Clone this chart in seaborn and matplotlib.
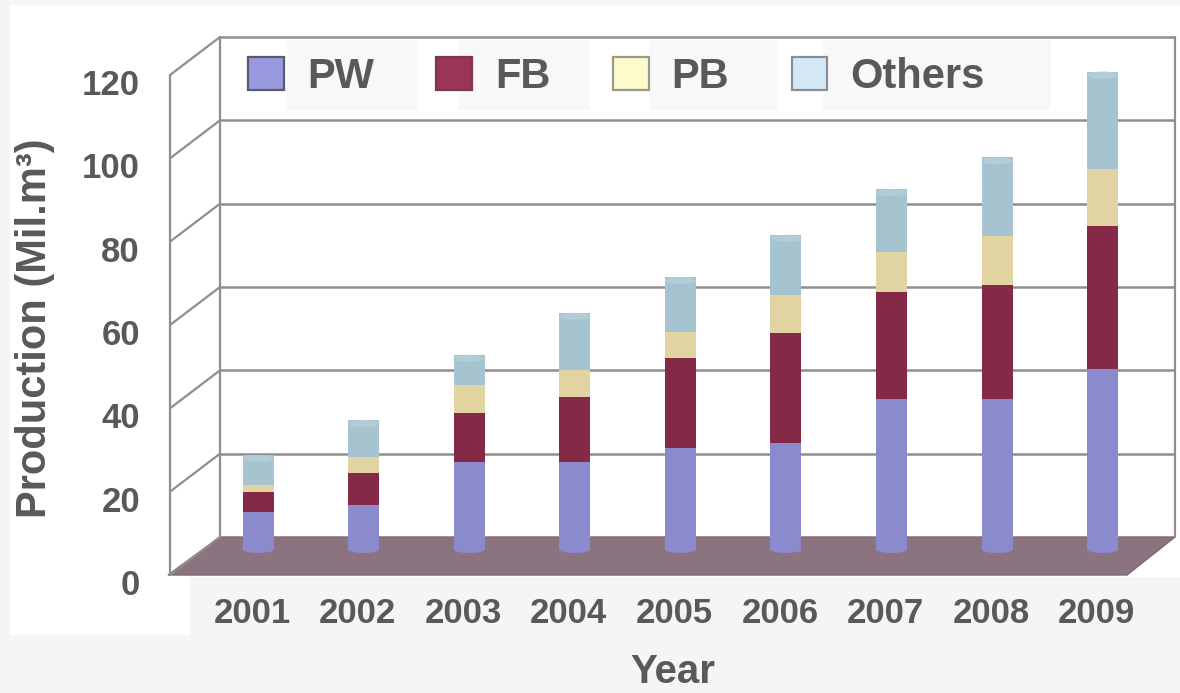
import numpy as np
import pandas as pd
import matplotlib
matplotlib.use("Agg")
import matplotlib.pyplot as plt
import seaborn as sns
from matplotlib.patches import Rectangle, Polygon, Patch, Ellipse
from matplotlib.transforms import ScaledTranslation

# ---------------- data ----------------
years = ["2001", "2002", "2003", "2004", "2005", "2006", "2007", "2008", "2009"]
pw = [9.0, 10.7, 21.0, 21.0, 24.4, 25.6, 36.1, 36.1, 43.3]
fb = [4.8, 7.7, 11.8, 15.6, 21.6, 26.4, 25.8, 27.4, 34.3]
pb = [1.7, 3.8, 6.7, 6.5, 6.2, 9.1, 9.6, 11.7, 13.7]
others = [7.2, 8.9, 7.2, 13.7, 13.2, 14.4, 15.0, 18.9, 23.4]
series_names = ["PW", "FB", "PB", "Others"]
y_ticks = [0, 20, 40, 60, 80, 100, 120]

bar_colors = {"PW": "#8a8acc", "FB": "#842a46", "PB": "#e2d4a2", "Others": "#a6c4d0"}
cap_color = "#b2cdd8"
legend_colors = {"PW": "#9a9ae0", "FB": "#9b3558", "PB": "#fdfbcc", "Others": "#d4e8f6"}
legend_edges = {"PW": "#5a5a6a", "FB": "#7a3a4a", "PB": "#9a9a88", "Others": "#8a8e94"}
text_color = "#595959"
line_color = "#8e8e8e"

sns.set_style("white")
plt.rcParams["font.family"] = ["Liberation Sans", "DejaVu Sans"]
plt.rcParams["font.weight"] = "bold"

W, H = 1180, 693
fig = plt.figure(figsize=(W / 100, H / 100), dpi=100)
fig.patch.set_facecolor("#f5f5f5")

def fx(px):
    return px / W

def fy(py):
    return 1 - py / H

# white backdrop areas
fig.patches.append(Rectangle((fx(10), fy(577)), (W - 10) / W, (577 - 5) / H,
                             transform=fig.transFigure, facecolor="white",
                             edgecolor="none", zorder=-2))
fig.patches.append(Rectangle((fx(10), fy(635)), 180 / W, (635 - 577) / H,
                             transform=fig.transFigure, facecolor="white",
                             edgecolor="none", zorder=-2))
# faint boxes behind legend texts
for x0, x1 in [(287, 417), (459, 589), (649, 777), (823, 1051)]:
    fig.patches.append(Rectangle((fx(x0), fy(110)), (x1 - x0) / W, 70 / H,
                                 transform=fig.transFigure, facecolor="#f8f8f8",
                                 edgecolor="none", zorder=-1))

rect = [150 / W, (H - 587.5) / H, 1030 / W, (587.5 - 25) / H]
step = 105.6
x_first = 258.0

def xd(px):
    return (px - x_first) / step

xlim = (xd(150), xd(1180))
px_per_unit = 4.1667
dv = 38 / px_per_unit  # depth offset in value units

# ---------------- frame axes (front scale) ----------------
ax = fig.add_axes(rect)
ax.set_xlim(*xlim)
ax.set_ylim(-3, 132)
ax.patch.set_alpha(0)
for s in ax.spines.values():
    s.set_visible(False)

# floor
ax.add_patch(Polygon([(xd(168), 0), (xd(1127), 0), (xd(1175), dv), (xd(220), dv)],
                     closed=True, facecolor="#8b7480", edgecolor="#7d6872",
                     linewidth=1.0, zorder=1))
# back wall gridlines
for v in y_ticks[1:]:
    ax.plot([xd(220), xd(1175)], [v + dv, v + dv], color=line_color, lw=1.8, zorder=2,
            solid_capstyle="butt")
# left wall slanted lines
for v in y_ticks:
    ax.plot([xd(170), xd(220)], [v, v + dv], color=line_color, lw=1.6, zorder=2)
# verticals
ax.plot([xd(220)] * 2, [dv, 120 + dv], color=line_color, lw=1.6, zorder=2)
ax.plot([xd(170)] * 2, [0, 120], color=line_color, lw=1.6, zorder=2)
ax.plot([xd(1175)] * 2, [dv, 120 + dv], color=line_color, lw=1.6, zorder=2)

ax.set_yticks(y_ticks)
ax.set_yticklabels([str(v) for v in y_ticks])
ax.set_xticks(range(len(years)))
ax.set_xticklabels(years)
ax.tick_params(axis="y", length=0, pad=7.2, labelsize=25, labelcolor=text_color)
ax.tick_params(axis="x", length=0, pad=6.5, labelsize=25, labelcolor=text_color)
for lab in ax.get_yticklabels():
    lab.set_fontweight("bold")
    lab.set_transform(lab.get_transform() + ScaledTranslation(0, -7 / 100, fig.dpi_scale_trans))
for lab in ax.get_xticklabels():
    lab.set_fontweight("bold")
    lab.set_transform(lab.get_transform() + ScaledTranslation(-6 / 100, 0, fig.dpi_scale_trans))

# ---------------- bars axes ----------------
axb = fig.add_axes(rect)
axb.patch.set_alpha(0)

df = pd.DataFrame({"Year": years, "PW": pw, "FB": fb, "PB": pb, "Others": others})
cum = df[series_names].cumsum(axis=1)
base_px = 549.5
for name in reversed(series_names):
    sns.barplot(x=df["Year"], y=cum[name], order=years, color=bar_colors[name],
                saturation=1, width=31 / step, edgecolor="none", linewidth=0,
                ax=axb, zorder=3)
axb.set_xlim(*xlim)
axb.set_ylim((base_px - 587.5) / px_per_unit, (base_px - 25) / px_per_unit)
axb.axis("off")

# cylinder caps derived from the drawn bars
cap_h = 7 / px_per_unit
for bar in axb.containers[0]:
    cx = bar.get_x() + bar.get_width() / 2
    top = bar.get_y() + bar.get_height()
    axb.add_patch(Ellipse((cx, top - cap_h / 2), bar.get_width(), cap_h,
                          facecolor=cap_color, edgecolor="none", zorder=4))
for bar in axb.containers[-1]:
    cx = bar.get_x() + bar.get_width() / 2
    axb.add_patch(Ellipse((cx, bar.get_y()), bar.get_width(), cap_h,
                          facecolor=bar_colors["PW"], edgecolor="none", zorder=4))

# ---------------- legend ----------------
handles = [Patch(facecolor=legend_colors[n], edgecolor=legend_edges[n], linewidth=1.6)
           for n in series_names]
fig.legend(handles, series_names, loc="center left",
           bbox_to_anchor=(fx(248), fy(77)), ncol=4, frameon=False,
           prop={"family": "Liberation Sans", "weight": "bold", "size": 30},
           labelcolor=text_color, handlelength=0.86, handleheight=0.86,
           handletextpad=0.55, columnspacing=1.5, borderpad=0, borderaxespad=0)

# ---------------- axis titles ----------------
fig.text(fx(35), fy(328), "Production (Mil.m³)", rotation=90, ha="center", va="center",
         fontsize=30, fontweight="bold", color=text_color)
fig.text(fx(673), fy(672), "Year", ha="center", va="center",
         fontsize=29, fontweight="bold", color=text_color)

fig.savefig("out.png", dpi=100, facecolor=fig.get_facecolor())
